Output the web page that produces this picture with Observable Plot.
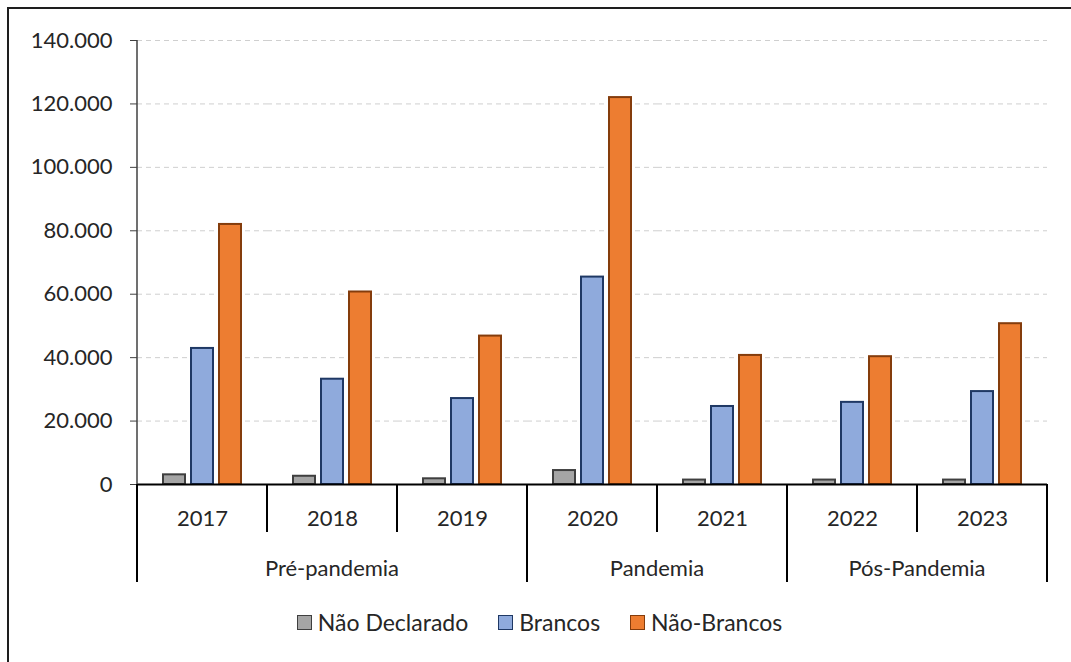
<!DOCTYPE html>
<html><head><meta charset="utf-8">
<script src="https://cdn.jsdelivr.net/npm/d3@7"></script>
<script src="https://cdn.jsdelivr.net/npm/@observablehq/plot@0.6"></script>
<style>
body{margin:0;background:#fff;}
#wrap{position:relative;width:1071px;height:662px;overflow:hidden;font-family:Lato,sans-serif;background:#fff;}
#border{position:absolute;left:7px;top:7px;width:1100px;height:700px;border-left:2px solid #1e1e1e;border-top:2px solid #1e1e1e;}
#chart{position:absolute;left:0;top:0;}
#legend{position:absolute;top:608px;left:4px;width:1071px;display:flex;justify-content:center;gap:30px;font-size:23px;color:#262626;line-height:28px;}
.item{display:flex;align-items:center;gap:6px;}
.sw{width:13px;height:13px;border:1.5px solid;}
</style></head>
<body><div id="wrap"><div id="border"></div><div id="chart"></div><div id="legend"></div></div>
<script>
const years = ["2017","2018","2019","2020","2021","2022","2023"];
const periods = ["Pré-pandemia","Pré-pandemia","Pré-pandemia","Pandemia","Pandemia","Pós-Pandemia","Pós-Pandemia"];
const series = ["Não Declarado","Brancos","Não-Brancos"];
const naoDeclarado = [3050, 2600, 1800, 4400, 1400, 1400, 1400];
const brancos = [42900, 33200, 27100, 65400, 24600, 25900, 29300];
const naoBrancos = [82000, 60700, 46800, 122000, 40700, 40300, 50700];
const yTicks = [0, 20000, 40000, 60000, 80000, 100000, 120000, 140000];
const fills = ["#a5a5a5", "#8faadc", "#ed7d31"];
const strokes = ["#3f3f3f", "#1f3864", "#843c0c"];

const valuesBySeries = [naoDeclarado, brancos, naoBrancos];
const data = years.flatMap((yr, i) => series.map((s, k) => ({year: yr, serie: s, value: valuesBySeries[k][i]})));

const loc = d3.formatLocale({decimal: ",", thousands: ".", grouping: [3], currency: ["R$", ""]});
const fmt = loc.format(",");

const plot = Plot.plot({
  width: 1071, height: 600,
  marginLeft: 135, marginRight: 23, marginTop: 40, marginBottom: 116,
  style: {fontFamily: "Lato, sans-serif", fontSize: "22px", color: "#262626", background: "transparent", overflow: "visible"},
  fx: {domain: years, padding: 0, label: null, tickSize: 0, tickPadding: 26},
  x: {domain: series, axis: null, paddingInner: 0.22, paddingOuter: 0.92},
  y: {domain: [0, 140000], axis: null},
  marks: [
    Plot.gridY(yTicks.filter(d => d > 0), {stroke: "#cfcfcf", strokeOpacity: 1, strokeDasharray: "5,4"}),
    Plot.axisY(yTicks, {tickFormat: fmt, tickSize: 7, tickPadding: 18, stroke: "#404040", label: null}),
    ...series.map((s, k) => Plot.barY(data.filter(d => d.serie === s), {
      fx: "year", x: "serie", y: "value", fill: fills[k], stroke: strokes[k], strokeWidth: 2
    })),
    Plot.ruleY([0], {stroke: "#000", strokeWidth: 2})
  ]
});
document.getElementById("chart").appendChild(plot);

// hierarchical category axis drawn from the plot's own scales
const fxS = plot.scale("fx"), yS = plot.scale("y");
const bw = fxS.bandwidth;
const y0 = yS.apply(0);
const g = d3.select(plot).append("g");
g.append("line").attr("x1", fxS.apply(years[0])).attr("x2", fxS.apply(years[0]))
  .attr("y1", yS.apply(140000)).attr("y2", y0).attr("stroke", "#404040").attr("stroke-width", 1.5);
const edges = years.map(y => fxS.apply(y)).concat([fxS.apply(years[years.length - 1]) + bw]);
edges.forEach(x => g.append("line").attr("x1", x).attr("x2", x).attr("y1", y0).attr("y2", y0 + 48)
  .attr("stroke", "#000").attr("stroke-width", 2));
const groups = [];
periods.forEach((p, i) => {
  if (!groups.length || groups[groups.length - 1].name !== p) groups.push({name: p, start: i, end: i});
  else groups[groups.length - 1].end = i;
});
groups.forEach(gr => {
  const xs = fxS.apply(years[gr.start]);
  const xe = fxS.apply(years[gr.end]) + bw;
  [xs, xe].forEach(x => g.append("line").attr("x1", x).attr("x2", x).attr("y1", y0).attr("y2", y0 + 98)
    .attr("stroke", "#000").attr("stroke-width", 2));
  g.append("text").attr("x", (xs + xe) / 2).attr("y", y0 + 92).attr("text-anchor", "middle")
    .attr("fill", "#262626").style("font-size", "22px").text(gr.name);
});

// legend
const leg = d3.select("#legend");
series.forEach((s, k) => {
  const it = leg.append("div").attr("class", "item");
  it.append("div").attr("class", "sw").style("background", fills[k]).style("border-color", strokes[k]);
  it.append("span").text(s);
});
</script>
</body></html>
